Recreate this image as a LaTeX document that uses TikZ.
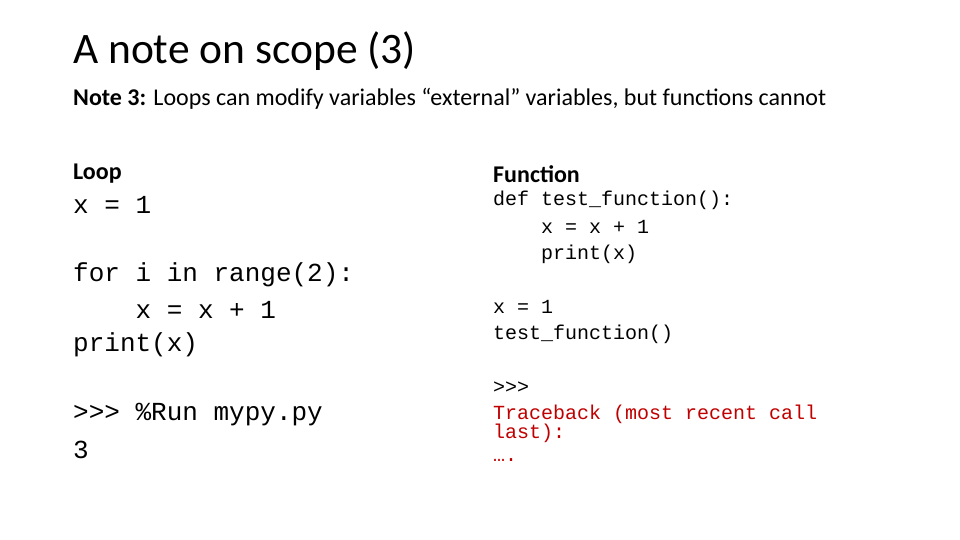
\documentclass[tikz,border=0pt]{standalone}
\usepackage{fontspec}
\setmainfont{Carlito}
\newfontfamily\codefont{Liberation Mono}
\definecolor{errred}{RGB}{192,0,0}
\begin{document}
\begin{tikzpicture}[x=1pt,y=-1pt,
  t/.style={anchor=west,inner sep=0pt},
  title/.style={t,font=\fontsize{43.5}{46}\selectfont},
  sub/.style={t,font=\fontsize{24}{26}\selectfont},
  bigcode/.style={t,font=\codefont\fontsize{26}{28}\selectfont},
  smallcode/.style={t,font=\codefont\fontsize{20}{22}\selectfont},
  err/.style={smallcode,text=errred}]
\useasboundingbox (0,0) rectangle (960,540);
\node[title] (ti) at (73,51) {A note on scope (3)};
\node[sub] (n3) at (73,99) {\textbf{Note 3:} Loops can modify variables “external” variables, but functions cannot};
\node[sub] (lp) at (73,174) {\textbf{Loop}};
\node[bigcode] (l1) at (73,205) {x = 1};
\node[bigcode] (l2) at (73,275) {for i in range(2):};
\node[bigcode] (l3) at (73,310) {\ \ \ \ x = x + 1};
\node[bigcode] (l4) at (73,345) {print(x)};
\node[bigcode] (l5) at (73,415) {>>> \%Run mypy.py};
\node[bigcode] (l6) at (73,450) {3};
\node[sub] (fn) at (493,174) {\textbf{Function}};
\node[smallcode] (f1) at (493,200) {def test\_function():};
\node[smallcode] (f2) at (493,227) {\ \ \ \ x = x + 1};
\node[smallcode] (f3) at (493,254) {\ \ \ \ print(x)};
\node[smallcode] (f4) at (493,307) {x = 1};
\node[smallcode] (f5) at (493,334) {test\_function()};
\node[smallcode] (f6) at (493,388) {>>>};
\node[err] (e1) at (493,414) {Traceback (most recent call};
\node[err] (e2) at (493,433) {last):};
\node[err] (e3) at (493,460) {….};
\end{tikzpicture}
\end{document}
